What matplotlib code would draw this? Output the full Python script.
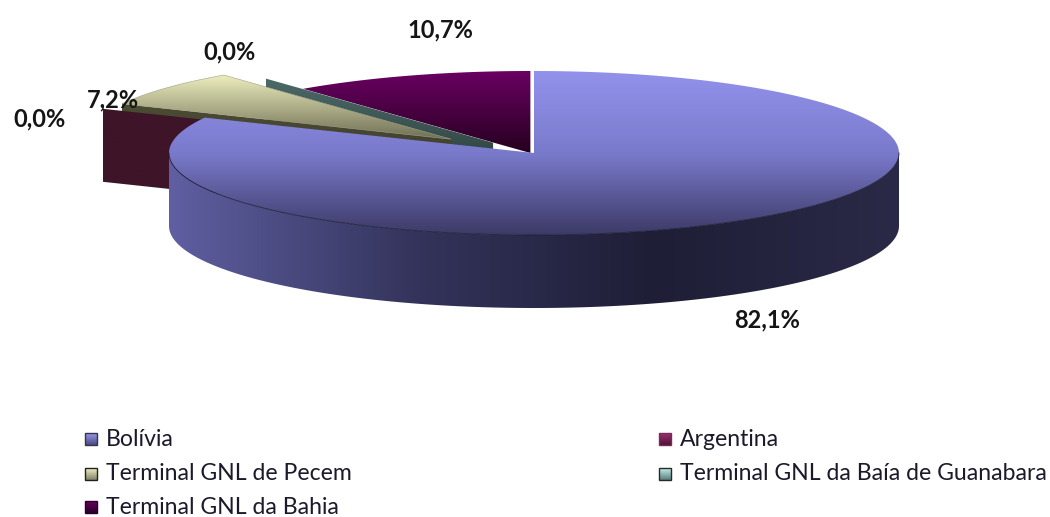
import numpy as np
import matplotlib
matplotlib.use('Agg')
import matplotlib.pyplot as plt
from matplotlib.colors import LinearSegmentedColormap
from matplotlib.patches import Polygon

plt.rcParams['font.family'] = ['Lato', 'DejaVu Sans']

# values of the chart, clockwise from 12 o'clock
categories = ['Bolívia', 'Argentina', 'Terminal GNL de Pecem',
              'Terminal GNL da Baía de Guanabara', 'Terminal GNL da Bahia']
shares = [82.1, 0.0, 7.2, 0.0, 10.7]

# pie shape in pixels
cx, cy = 534, 153
rx, ry = 365, 82
depth = 73
explode_x = [0.0, 0.31, 0.29, 0.18, 0.03]
explode_y = [0.0, 0.25, 0.27, 0.16, 0.0]

label_pos = [(767, 320), (40, 119), (113, 100), (230, 52), (440, 30)]
legend_pos = [(85, 439), (659, 439), (85, 474), (659, 474), (85, 507)]
legend_top = ['#9a9af0', '#a02f70', '#f2f2c8', '#c8f0ee', '#6a0060']
legend_bot = ['#4a4a80', '#4a1535', '#808068', '#5a7a78', '#2a0028']
legend_edge = ['#33334f', '#7a2a58', '#222218', '#222a2a', '#2a0028']


def point(ang):
    # ang is degrees clockwise from the top
    return cx + rx * np.sin(np.radians(ang)), cy - ry * np.cos(np.radians(ang))


def offset(ang, kx, ky):
    return kx * rx * np.sin(np.radians(ang)), -ky * ry * np.cos(np.radians(ang))


def sector(a0, a1, dx=0, dy=0):
    t = np.linspace(a0, a1, 200)
    x, y = point(t)
    xs = np.concatenate([[cx], x]) + dx
    ys = np.concatenate([[cy], y]) + dy
    return np.column_stack([xs, ys])


def fill(ax, verts, colors, z, horizontal=False, edge=None, lw=0.6):
    # gradient image clipped to the polygon
    verts = np.array(verts)
    x0, x1 = verts[:, 0].min(), verts[:, 0].max()
    y0, y1 = verts[:, 1].min(), verts[:, 1].max()
    cmap = LinearSegmentedColormap.from_list('g', colors)
    g = np.linspace(0, 1, 256)
    g = g.reshape(1, -1) if horizontal else g.reshape(-1, 1)
    im = ax.imshow(g, cmap=cmap, extent=(x0, x1, y1, y0), aspect='auto', zorder=z, interpolation='bilinear')
    p = Polygon(verts, closed=True, fc='none', ec=edge if edge else 'none', lw=lw, zorder=z + 0.1)
    ax.add_patch(p)
    im.set_clip_path(p)


def wall(ang, dx, dy):
    ox, oy = point(ang)
    return [(cx + dx, cy + dy), (ox + dx, oy + dy), (ox + dx, oy + dy + depth), (cx + dx, cy + dy + depth)]


fig = plt.figure(figsize=(10.5, 5.17), dpi=100)
ax = fig.add_axes([0, 0, 1, 1])

# slice angles from the values
edges = np.concatenate([[0], np.cumsum(shares)]) * 3.6
mids = (edges[:-1] + edges[1:]) / 2
offs = [offset(mids[i], explode_x[i], explode_y[i]) for i in range(len(shares))]

# Bahia top
fill(ax, sector(edges[4], edges[5], offs[4][0], offs[4][1]), ['#6a0062', '#25001f'], 2)

# Guanabara wall, zero width slice
fill(ax, wall(edges[3], offs[3][0], offs[3][1]), ['#4c6a68', '#1c2a28'], 3)

# Pecem wall then Argentina wall in front of it
fill(ax, wall(edges[2], offs[2][0], offs[2][1]), ['#4c4c34', '#34342a'], 4)
fill(ax, wall(edges[1], offs[1][0], offs[1][1]), ['#3e1428', '#3e1428'], 5)

# Pecem top
fill(ax, sector(edges[2], edges[3], offs[2][0], offs[2][1]), ['#efefc0', '#6f6f55'], 6, edge='#a0a088', lw=0.4)

# Bolivia side, visible lower half only
t = np.linspace(90, 270, 300)
sx, sy = point(t)
side = np.column_stack([np.concatenate([sx, sx[::-1]]), np.concatenate([sy, sy[::-1] + depth])])
fill(ax, side, ['#5f5fa2', '#34345c', '#1e1e36', '#2a2a48'], 7, horizontal=True)

# Bolivia top
fill(ax, sector(edges[0], edges[1]), ['#9292ec', '#7a7acc', '#3c3a66'], 8)
ax.plot(sx, sy, color='#20203a', lw=0.6, zorder=9)

# percent labels
for i in range(len(shares)):
    txt = ('%.1f%%' % shares[i]).replace('.', ',')
    ax.text(label_pos[i][0], label_pos[i][1], txt, fontsize=17, fontweight='bold', color='#151515',
            ha='center', va='center', zorder=12)

# legend
for i in range(len(categories)):
    lx, ly = legend_pos[i]
    fill(ax, [(lx, ly - 6), (lx + 12, ly - 6), (lx + 12, ly + 6), (lx, ly + 6)],
         [legend_top[i], legend_bot[i]], 10, edge=legend_edge[i], lw=1.0)
    ax.text(lx + 21, ly, categories[i], fontsize=16.6, color='#1a1a2a', ha='left', va='center', zorder=12)

ax.set_xlim(0, 1050)
ax.set_ylim(517, 0)
ax.axis('off')
fig.savefig('out.png', dpi=100)
